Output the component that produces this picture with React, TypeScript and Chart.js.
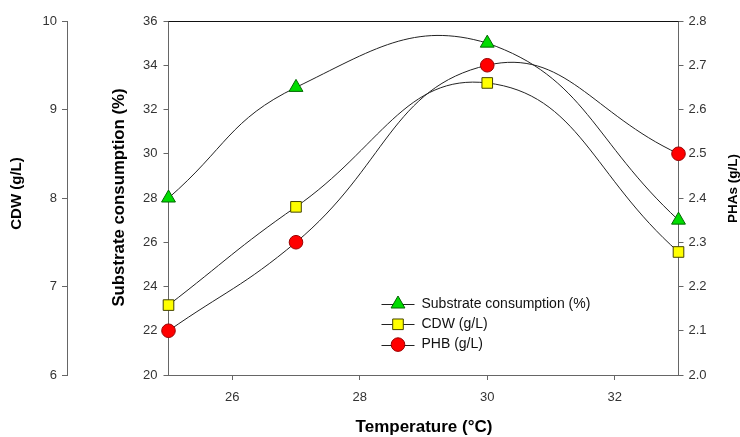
import React, { useEffect, useRef } from 'react';
import { Chart, registerables } from 'chart.js';

Chart.register(...registerables);

// ---- data ----
const temperatures = [25, 27, 30, 33];
const substrateConsumption = [28.0, 33.0, 35.0, 27.0];
const cdwValues = [6.79, 7.9, 9.3, 7.39];
const phbValues = [2.1, 2.3, 2.7, 2.5];

const xTickValues = [26, 28, 30, 32];
const cdwTickValues = [6, 7, 8, 9, 10];
const substrateTickValues = [20, 22, 24, 26, 28, 30, 32, 34, 36];
const phaTickValues = [2.0, 2.1, 2.2, 2.3, 2.4, 2.5, 2.6, 2.7, 2.8];

const seriesLabels = ['Substrate consumption (%)', 'CDW (g/L)', 'PHB (g/L)'];
const xTitle = 'Temperature (°C)';
const cdwTitle = 'CDW (g/L)';
const substrateTitle = 'Substrate consumption (%)';
const phaTitle = 'PHAs (g/L)';

const FONT = "'Liberation Sans', Arial, Helvetica, sans-serif";
const AXIS_COLOR = '#666666';
const TICK_COLOR = '#333333';

const markers = [
  { style: 'triangle', radius: 8, fill: '#00dd00', stroke: '#006600' },
  { style: 'rect', radius: 7.5, fill: '#ffff00', stroke: '#444400' },
  { style: 'circle', radius: 6.8, fill: '#ff0000', stroke: '#990000' },
];

function drawMarker(ctx: CanvasRenderingContext2D, style: string, x: number, y: number, r: number, fill: string, stroke: string) {
  ctx.save();
  ctx.beginPath();
  if (style === 'triangle') {
    const a = (2 * Math.PI) / 3;
    ctx.moveTo(x, y - r);
    ctx.lineTo(x + Math.sin(a) * r, y - Math.cos(a) * r);
    ctx.lineTo(x + Math.sin(2 * a) * r, y - Math.cos(2 * a) * r);
    ctx.closePath();
  } else if (style === 'rect') {
    const s = Math.SQRT1_2 * r;
    ctx.rect(x - s, y - s, 2 * s, 2 * s);
  } else {
    ctx.arc(x, y, r, 0, Math.PI * 2);
  }
  ctx.fillStyle = fill;
  ctx.fill();
  ctx.lineWidth = 1;
  ctx.strokeStyle = stroke;
  ctx.stroke();
  ctx.restore();
}

const decorPlugin = {
  id: 'decor',
  afterDraw(chart: any) {
    const ctx: CanvasRenderingContext2D = chart.ctx;
    const a = chart.chartArea;
    // top frame line
    ctx.save();
    ctx.strokeStyle = '#111111';
    ctx.lineWidth = 1;
    ctx.beginPath();
    ctx.moveTo(a.left, Math.round(a.top) + 0.5);
    ctx.lineTo(a.right, Math.round(a.top) + 0.5);
    ctx.stroke();

    // axis titles
    ctx.fillStyle = '#000000';
    ctx.textAlign = 'center';
    ctx.textBaseline = 'middle';
    const cdwScale = chart.scales.yCdw;
    const subScale = chart.scales.ySub;
    const phaScale = chart.scales.yPha;

    const rotText = (t: string, size: number, x: number, y: number) => {
      ctx.save();
      ctx.font = `bold ${size}px ${FONT}`;
      ctx.translate(x, y);
      ctx.rotate(-Math.PI / 2);
      ctx.fillText(t, 0, 0);
      ctx.restore();
    };
    rotText(cdwTitle, 15, cdwScale.left + 17, 193.5);
    rotText(substrateTitle, 16.8, subScale.left + 52, 197.5);
    rotText(phaTitle, 13.5, phaScale.right - 7, 188.5);
    ctx.font = `bold 17px ${FONT}`;
    ctx.fillText(xTitle, 424, a.bottom + 52);

    // legend
    const lx = a.left + 213;
    const ly = a.top + 283;
    const rowH = 20.3;
    ctx.font = `14px ${FONT}`;
    ctx.textAlign = 'left';
    ctx.textBaseline = 'middle';
    seriesLabels.forEach((label, i) => {
      const y = ly + i * rowH;
      ctx.strokeStyle = '#222222';
      ctx.lineWidth = 1;
      ctx.beginPath();
      ctx.moveTo(lx, Math.round(y) + 0.5);
      ctx.lineTo(lx + 33, Math.round(y) + 0.5);
      ctx.stroke();
      const m = markers[i];
      drawMarker(ctx, m.style, lx + 16.5, y, m.radius, m.fill, m.stroke);
      ctx.fillStyle = '#111111';
      ctx.fillText(label, lx + 40, y);
    });
    ctx.restore();
  },
};

export default function App() {
  const ref = useRef<HTMLCanvasElement | null>(null);

  useEffect(() => {
    document.body.style.margin = '0';
    const canvas = ref.current;
    if (!canvas) return;

    const ds = (label: string, values: number[], axis: string, i: number) => ({
      label,
      data: temperatures.map((t, k) => ({ x: t, y: values[k] })),
      yAxisID: axis,
      borderColor: '#222222',
      borderWidth: 1,
      tension: 0.45,
      pointStyle: markers[i].style,
      pointRadius: markers[i].radius,
      pointHoverRadius: markers[i].radius,
      pointBackgroundColor: markers[i].fill,
      pointBorderColor: markers[i].stroke,
      pointBorderWidth: 1,
      clip: false,
      fill: false,
    });

    const tickFont = { family: FONT, size: 13 };

    const chart = new Chart(canvas, {
      type: 'line',
      data: {
        datasets: [
          ds(seriesLabels[0], substrateConsumption, 'ySub', 0),
          ds(seriesLabels[1], cdwValues, 'yCdw', 1),
          ds(seriesLabels[2], phbValues, 'yPha', 2),
        ],
      },
      options: {
        animation: false,
        responsive: false,
        maintainAspectRatio: false,
        layout: { padding: { top: 21, left: 0, right: 0, bottom: 0 } },
        plugins: {
          legend: { display: false },
          tooltip: { enabled: false },
        },
        scales: {
          x: {
            type: 'linear',
            position: 'bottom',
            min: 25,
            max: 33,
            afterBuildTicks: (s: any) => {
              s.ticks = xTickValues.map((v) => ({ value: v }));
            },
            afterFit: (s: any) => {
              s.height = 62;
            },
            grid: { drawOnChartArea: false, drawTicks: true, tickLength: 5, color: AXIS_COLOR },
            border: { display: true, color: AXIS_COLOR, width: 1 },
            ticks: { font: tickFont, color: TICK_COLOR, padding: 10, maxRotation: 0 },
          },
          yCdw: {
            type: 'linear',
            position: 'left',
            weight: 2,
            min: 6,
            max: 10,
            afterBuildTicks: (s: any) => {
              s.ticks = cdwTickValues.map((v) => ({ value: v }));
            },
            afterFit: (s: any) => {
              s.width = 67;
            },
            grid: { drawOnChartArea: false, drawTicks: true, tickLength: 5, color: AXIS_COLOR },
            border: { display: true, color: AXIS_COLOR, width: 1 },
            ticks: { font: tickFont, color: TICK_COLOR, padding: 5 },
          },
          ySub: {
            type: 'linear',
            position: 'left',
            weight: 1,
            min: 20,
            max: 36,
            afterBuildTicks: (s: any) => {
              s.ticks = substrateTickValues.map((v) => ({ value: v }));
            },
            afterFit: (s: any) => {
              s.width = 101.5;
            },
            grid: { drawOnChartArea: false, drawTicks: true, tickLength: 5, color: AXIS_COLOR },
            border: { display: true, color: AXIS_COLOR, width: 1 },
            ticks: { font: tickFont, color: TICK_COLOR, padding: 6 },
          },
          yPha: {
            type: 'linear',
            position: 'right',
            min: 2.0,
            max: 2.8,
            afterBuildTicks: (s: any) => {
              s.ticks = phaTickValues.map((v) => ({ value: v }));
            },
            afterFit: (s: any) => {
              s.width = 61.5;
            },
            grid: { drawOnChartArea: false, drawTicks: true, tickLength: 5, color: AXIS_COLOR },
            border: { display: true, color: AXIS_COLOR, width: 1 },
            ticks: {
              font: tickFont,
              color: TICK_COLOR,
              padding: 5,
              callback: (v: any) => Number(v).toFixed(1),
            },
          },
        },
      } as any,
      plugins: [decorPlugin],
    });

    return () => chart.destroy();
  }, []);

  return (
    <div style={{ width: 740, height: 437, background: '#ffffff' }}>
      <canvas ref={ref} width={740} height={437} style={{ display: 'block' }} />
    </div>
  );
}
